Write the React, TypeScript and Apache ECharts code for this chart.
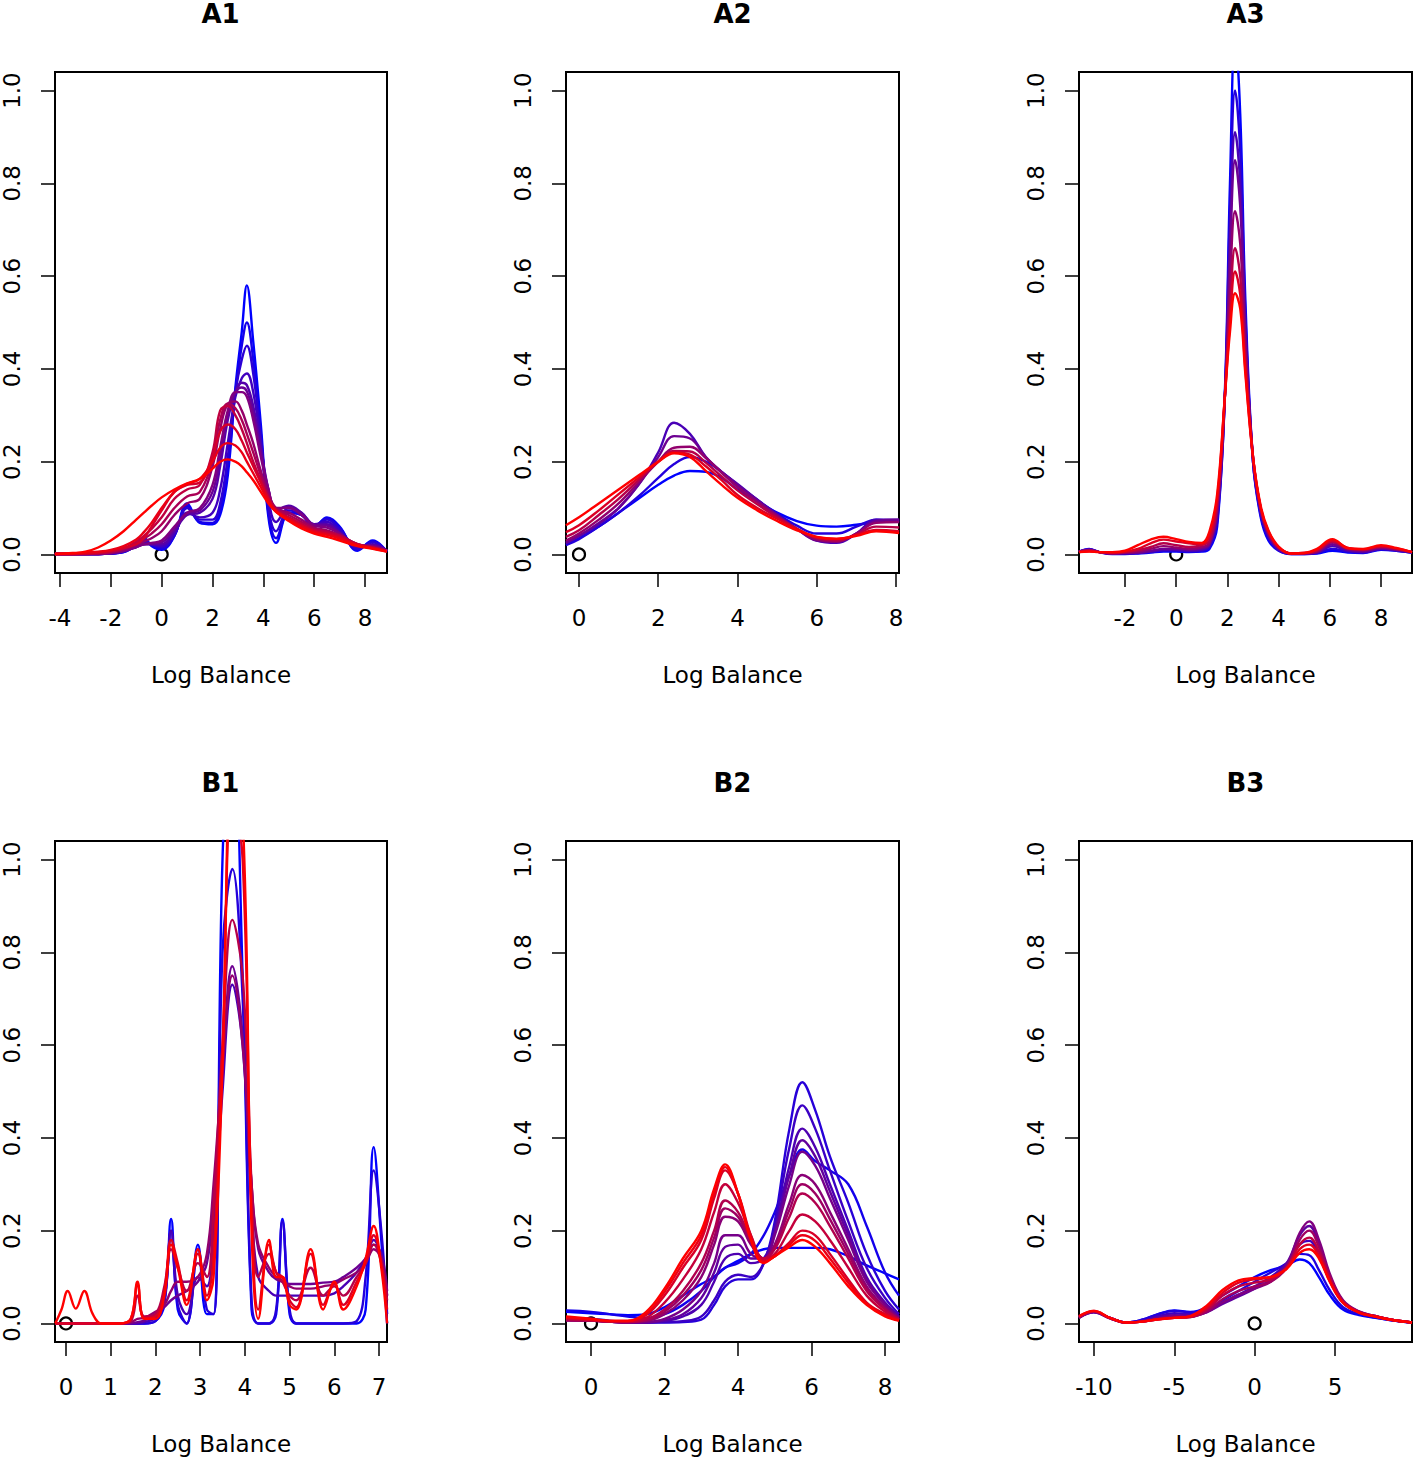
import React, { useEffect, useRef } from "react";
import * as echarts from "echarts";

// ---------- DATA ----------
const Y_TICKS = [0, 0.2, 0.4, 0.6, 0.8, 1.0];

const A1_TICKS = [-4, -2, 0, 2, 4, 6, 8];
const A2_TICKS = [0, 2, 4, 6, 8];
const A3_TICKS = [-2, 0, 2, 4, 6, 8];
const B1_TICKS = [0, 1, 2, 3, 4, 5, 6, 7];
const B2_TICKS = [0, 2, 4, 6, 8];
const B3_TICKS = [-10, -5, 0, 5];

const A1_X = [-4.2, -3.5, -3, -2.5, -2, -1.5, -1, -0.7, -0.4, 0, 0.5, 1, 1.5, 2, 2.3, 2.6, 2.9, 3.15, 3.35, 3.6, 3.9, 4.2, 4.5, 5, 5.5, 6, 6.5, 7, 7.7, 8.3, 8.86];
const A1_CURVES = [
  [0.001, 0.001, 0.001, 0.001, 0.002, 0.005, 0.02, 0.036, 0.018, 0.01, 0.04, 0.11, 0.068, 0.065, 0.085, 0.17, 0.36, 0.48, 0.58, 0.46, 0.28, 0.08, 0.025, 0.09, 0.085, 0.06, 0.08, 0.06, 0.008, 0.03, 0.006],
  [0.001, 0.001, 0.001, 0.001, 0.002, 0.005, 0.02, 0.034, 0.02, 0.012, 0.04, 0.105, 0.07, 0.068, 0.095, 0.19, 0.35, 0.45, 0.5, 0.42, 0.26, 0.09, 0.035, 0.09, 0.085, 0.06, 0.078, 0.058, 0.01, 0.028, 0.006],
  [0.001, 0.001, 0.001, 0.001, 0.002, 0.006, 0.02, 0.03, 0.022, 0.015, 0.042, 0.1, 0.075, 0.075, 0.11, 0.21, 0.35, 0.42, 0.45, 0.39, 0.25, 0.1, 0.05, 0.095, 0.085, 0.062, 0.075, 0.055, 0.012, 0.026, 0.007],
  [0.001, 0.001, 0.001, 0.001, 0.002, 0.006, 0.018, 0.026, 0.022, 0.018, 0.045, 0.09, 0.08, 0.09, 0.14, 0.24, 0.34, 0.38, 0.39, 0.35, 0.24, 0.12, 0.07, 0.1, 0.09, 0.065, 0.07, 0.05, 0.015, 0.022, 0.008],
  [0.001, 0.001, 0.001, 0.001, 0.003, 0.007, 0.016, 0.022, 0.022, 0.022, 0.05, 0.085, 0.09, 0.12, 0.19, 0.29, 0.35, 0.37, 0.365, 0.32, 0.23, 0.14, 0.095, 0.105, 0.09, 0.065, 0.065, 0.047, 0.018, 0.02, 0.008],
  [0.001, 0.001, 0.001, 0.001, 0.003, 0.007, 0.016, 0.022, 0.023, 0.026, 0.055, 0.088, 0.095, 0.135, 0.21, 0.3, 0.35, 0.36, 0.352, 0.305, 0.22, 0.14, 0.098, 0.102, 0.088, 0.064, 0.062, 0.046, 0.019, 0.019, 0.008],
  [0.001, 0.001, 0.001, 0.001, 0.003, 0.008, 0.016, 0.022, 0.025, 0.03, 0.06, 0.09, 0.1, 0.15, 0.23, 0.31, 0.35, 0.35, 0.34, 0.29, 0.21, 0.14, 0.1, 0.1, 0.085, 0.062, 0.058, 0.045, 0.02, 0.018, 0.008],
  [0.001, 0.001, 0.001, 0.002, 0.004, 0.01, 0.02, 0.028, 0.035, 0.05, 0.085, 0.11, 0.12, 0.19, 0.27, 0.325, 0.33, 0.31, 0.28, 0.24, 0.18, 0.13, 0.1, 0.09, 0.075, 0.058, 0.052, 0.042, 0.022, 0.016, 0.008],
  [0.001, 0.001, 0.001, 0.002, 0.005, 0.012, 0.024, 0.034, 0.045, 0.065, 0.1, 0.125, 0.135, 0.205, 0.29, 0.325, 0.315, 0.29, 0.26, 0.22, 0.17, 0.125, 0.098, 0.085, 0.07, 0.056, 0.05, 0.041, 0.022, 0.015, 0.008],
  [0.001, 0.001, 0.002, 0.003, 0.006, 0.013, 0.028, 0.04, 0.055, 0.08, 0.12, 0.14, 0.15, 0.22, 0.31, 0.32, 0.3, 0.27, 0.24, 0.2, 0.16, 0.12, 0.095, 0.08, 0.066, 0.053, 0.048, 0.04, 0.022, 0.015, 0.007],
  [0.001, 0.001, 0.002, 0.004, 0.008, 0.014, 0.022, 0.035, 0.06, 0.095, 0.135, 0.15, 0.155, 0.21, 0.265, 0.28, 0.27, 0.245, 0.22, 0.19, 0.155, 0.12, 0.095, 0.078, 0.063, 0.05, 0.045, 0.037, 0.021, 0.014, 0.007],
  [0.001, 0.002, 0.004, 0.006, 0.01, 0.018, 0.032, 0.048, 0.068, 0.1, 0.135, 0.152, 0.163, 0.2, 0.23, 0.24, 0.235, 0.22, 0.2, 0.175, 0.145, 0.115, 0.092, 0.075, 0.06, 0.048, 0.042, 0.034, 0.02, 0.013, 0.006],
  [0.001, 0.003, 0.006, 0.015, 0.03, 0.05, 0.075, 0.09, 0.105, 0.123, 0.14, 0.153, 0.163, 0.185, 0.2, 0.205, 0.2, 0.19, 0.177, 0.16, 0.135, 0.11, 0.092, 0.072, 0.056, 0.045, 0.038, 0.03, 0.018, 0.012, 0.006],
];

const A2_X = [-0.33, 0, 0.5, 1, 1.5, 2, 2.4, 2.8, 3.2, 3.6, 4, 4.5, 5, 5.5, 6, 6.5, 7, 7.5, 8.08];
const A2_CURVES = [
  [0.021, 0.035, 0.06, 0.09, 0.12, 0.15, 0.17, 0.18, 0.178, 0.165, 0.14, 0.115, 0.09, 0.072, 0.062, 0.06, 0.064, 0.07, 0.072],
  [0.02, 0.033, 0.06, 0.09, 0.125, 0.165, 0.195, 0.21, 0.2, 0.178, 0.15, 0.118, 0.088, 0.062, 0.045, 0.045, 0.06, 0.075, 0.07],
  [0.025, 0.04, 0.065, 0.1, 0.15, 0.22, 0.284, 0.26, 0.21, 0.178, 0.152, 0.118, 0.085, 0.055, 0.03, 0.025, 0.045, 0.075, 0.075],
  [0.025, 0.04, 0.068, 0.1, 0.15, 0.21, 0.255, 0.25, 0.21, 0.178, 0.15, 0.117, 0.085, 0.055, 0.03, 0.027, 0.045, 0.072, 0.075],
  [0.03, 0.045, 0.075, 0.11, 0.155, 0.2, 0.23, 0.232, 0.208, 0.176, 0.145, 0.113, 0.083, 0.055, 0.032, 0.028, 0.045, 0.068, 0.07],
  [0.038, 0.052, 0.085, 0.12, 0.16, 0.2, 0.223, 0.222, 0.198, 0.168, 0.138, 0.108, 0.08, 0.055, 0.035, 0.03, 0.043, 0.06, 0.058],
  [0.048, 0.063, 0.095, 0.13, 0.165, 0.2, 0.22, 0.215, 0.19, 0.16, 0.128, 0.1, 0.077, 0.055, 0.037, 0.033, 0.042, 0.053, 0.05],
  [0.063, 0.08, 0.11, 0.14, 0.17, 0.2, 0.218, 0.21, 0.18, 0.15, 0.122, 0.095, 0.072, 0.052, 0.038, 0.034, 0.04, 0.05, 0.046],
];

const A3_X = [-3.8, -3.4, -3, -2.5, -2, -1.5, -1, -0.5, 0, 0.5, 1, 1.3, 1.6, 1.9, 2.1, 2.3, 2.5, 2.7, 3, 3.3, 3.6, 4, 4.5, 5, 5.5, 6.1, 6.7, 7.3, 8, 8.6, 9.21];
const A3_CURVES = [
  [0.006, 0.012, 0.005, 0.001, 0.001, 0.002, 0.004, 0.006, 0.006, 0.005, 0.006, 0.012, 0.06, 0.35, 0.8, 1.12, 0.95, 0.55, 0.2, 0.08, 0.03, 0.008, 0.001, 0.001, 0.002, 0.008, 0.004, 0.003, 0.01, 0.008, 0.004],
  [0.006, 0.011, 0.005, 0.002, 0.002, 0.003, 0.005, 0.008, 0.008, 0.006, 0.008, 0.015, 0.07, 0.34, 0.74, 1.0, 0.87, 0.52, 0.2, 0.085, 0.035, 0.009, 0.001, 0.001, 0.003, 0.012, 0.006, 0.004, 0.011, 0.008, 0.004],
  [0.006, 0.01, 0.005, 0.002, 0.002, 0.003, 0.006, 0.01, 0.01, 0.008, 0.01, 0.02, 0.08, 0.34, 0.68, 0.91, 0.8, 0.5, 0.2, 0.09, 0.04, 0.01, 0.002, 0.002, 0.004, 0.018, 0.008, 0.005, 0.012, 0.009, 0.004],
  [0.006, 0.01, 0.005, 0.002, 0.003, 0.004, 0.008, 0.012, 0.012, 0.01, 0.013, 0.022, 0.09, 0.34, 0.64, 0.85, 0.75, 0.48, 0.21, 0.095, 0.042, 0.012, 0.002, 0.002, 0.005, 0.022, 0.01, 0.007, 0.013, 0.01, 0.005],
  [0.006, 0.009, 0.005, 0.002, 0.004, 0.006, 0.012, 0.018, 0.015, 0.012, 0.016, 0.025, 0.1, 0.34, 0.58, 0.74, 0.67, 0.45, 0.21, 0.1, 0.045, 0.014, 0.002, 0.002, 0.006, 0.026, 0.012, 0.009, 0.015, 0.011, 0.005],
  [0.006, 0.008, 0.005, 0.003, 0.005, 0.009, 0.016, 0.024, 0.02, 0.016, 0.02, 0.03, 0.11, 0.34, 0.53, 0.66, 0.6, 0.42, 0.21, 0.1, 0.048, 0.015, 0.002, 0.003, 0.008, 0.028, 0.013, 0.01, 0.017, 0.012, 0.005],
  [0.005, 0.007, 0.005, 0.004, 0.006, 0.012, 0.024, 0.032, 0.028, 0.024, 0.022, 0.04, 0.12, 0.34, 0.5, 0.61, 0.56, 0.4, 0.21, 0.1, 0.05, 0.016, 0.002, 0.003, 0.01, 0.03, 0.014, 0.011, 0.018, 0.013, 0.005],
  [0.005, 0.006, 0.005, 0.005, 0.008, 0.02, 0.032, 0.038, 0.033, 0.027, 0.025, 0.05, 0.13, 0.34, 0.48, 0.563, 0.53, 0.39, 0.21, 0.105, 0.052, 0.017, 0.002, 0.003, 0.012, 0.033, 0.014, 0.012, 0.02, 0.014, 0.005],
];

const B1_X = [-0.24, -0.1, 0.04, 0.22, 0.41, 0.6, 0.8, 1.2, 1.45, 1.6, 1.75, 2.0, 2.2, 2.35, 2.5, 2.7, 2.95, 3.15, 3.3, 3.5, 3.72, 3.95, 4.15, 4.3, 4.54, 4.7, 4.84, 5.0, 5.15, 5.47, 5.75, 6.0, 6.2, 6.5, 6.7, 6.88, 7.05, 7.18];
const B1_CURVES = [
  [0, 0, 0, 0, 0, 0, 0, 0, 0, 0, 0, 0.005, 0.04, 0.225, 0.03, 0, 0.17, 0.02, 0.02, 1.0, 1.35, 0.75, 0.03, 0, 0, 0.02, 0.225, 0.02, 0, 0, 0, 0, 0, 0, 0.03, 0.38, 0.18, 0],
  [0, 0, 0, 0, 0, 0, 0, 0, 0, 0, 0, 0.005, 0.05, 0.2, 0.04, 0, 0.16, 0.03, 0.02, 0.8, 0.98, 0.7, 0.05, 0, 0, 0.03, 0.22, 0.03, 0, 0, 0, 0, 0, 0.005, 0.1, 0.33, 0.2, 0.02],
  [0, 0, 0, 0, 0, 0, 0, 0, 0, 0, 0.003, 0.012, 0.05, 0.2, 0.06, 0.02, 0.1, 0.08, 0.2, 0.5, 0.73, 0.6, 0.25, 0.1, 0.07, 0.06, 0.06, 0.06, 0.06, 0.06, 0.06, 0.065, 0.08, 0.11, 0.14, 0.18, 0.14, 0.06],
  [0, 0, 0, 0, 0, 0, 0, 0, 0, 0.003, 0.006, 0.02, 0.035, 0.05, 0.06, 0.07, 0.09, 0.13, 0.25, 0.55, 0.77, 0.62, 0.3, 0.16, 0.11, 0.095, 0.09, 0.085, 0.085, 0.085, 0.088, 0.09, 0.1, 0.12, 0.14, 0.17, 0.15, 0.07],
  [0, 0, 0, 0, 0, 0, 0, 0, 0.003, 0.01, 0.012, 0.025, 0.04, 0.07, 0.09, 0.09, 0.1, 0.15, 0.3, 0.55, 0.75, 0.6, 0.3, 0.17, 0.12, 0.1, 0.09, 0.08, 0.075, 0.075, 0.08, 0.085, 0.095, 0.11, 0.13, 0.16, 0.14, 0.06],
  [0, 0, 0, 0, 0, 0, 0, 0, 0.005, 0.06, 0.015, 0.02, 0.08, 0.16, 0.12, 0.07, 0.13, 0.1, 0.25, 0.6, 0.87, 0.75, 0.3, 0.1, 0.15, 0.11, 0.09, 0.06, 0.05, 0.12, 0.06, 0.08, 0.06, 0.1, 0.13, 0.17, 0.13, 0.05],
  [0, 0, 0, 0, 0, 0, 0, 0, 0.01, 0.085, 0.012, 0.015, 0.07, 0.18, 0.13, 0.05, 0.15, 0.06, 0.15, 0.6, 1.15, 1.0, 0.25, 0.03, 0.17, 0.11, 0.1, 0.05, 0.035, 0.15, 0.04, 0.085, 0.04, 0.09, 0.13, 0.19, 0.13, 0.03],
  [0, 0.03, 0.07, 0.032, 0.07, 0.02, 0, 0, 0.01, 0.09, 0.01, 0.01, 0.06, 0.17, 0.12, 0.04, 0.16, 0.05, 0.1, 0.55, 1.2, 1.1, 0.2, 0.01, 0.18, 0.1, 0.1, 0.04, 0.03, 0.16, 0.03, 0.09, 0.03, 0.08, 0.14, 0.21, 0.12, 0],
];

const B2_X = [-0.68, 0, 0.5, 1.0, 1.5, 2.0, 2.5, 3.0, 3.35, 3.65, 4.0, 4.35, 4.7, 5.0, 5.4, 5.75, 6.1, 6.5, 7.0, 7.5, 8.0, 8.38];
const B2_CURVES = [
  [0.025, 0.022, 0.02, 0.018, 0.02, 0.035, 0.06, 0.085, 0.1, 0.12, 0.135, 0.15, 0.16, 0.163, 0.163, 0.163, 0.163, 0.16, 0.145, 0.125, 0.108, 0.095],
  [0.028, 0.025, 0.02, 0.015, 0.012, 0.02, 0.04, 0.07, 0.1, 0.12, 0.13, 0.15, 0.19, 0.24, 0.32, 0.375, 0.35, 0.33, 0.3, 0.21, 0.11, 0.06],
  [0.012, 0.01, 0.006, 0.003, 0.002, 0.002, 0.003, 0.008, 0.04, 0.08, 0.095, 0.095, 0.13, 0.22, 0.42, 0.52, 0.46, 0.36, 0.26, 0.15, 0.07, 0.03],
  [0.01, 0.008, 0.005, 0.003, 0.002, 0.003, 0.005, 0.015, 0.05, 0.09, 0.105, 0.1, 0.13, 0.21, 0.38, 0.47, 0.42, 0.33, 0.22, 0.12, 0.055, 0.02],
  [0.008, 0.007, 0.004, 0.002, 0.002, 0.005, 0.015, 0.04, 0.09, 0.14, 0.15, 0.13, 0.14, 0.2, 0.34, 0.42, 0.38, 0.3, 0.2, 0.1, 0.045, 0.015],
  [0.008, 0.006, 0.004, 0.002, 0.002, 0.007, 0.02, 0.055, 0.11, 0.165, 0.17, 0.14, 0.14, 0.195, 0.32, 0.395, 0.36, 0.285, 0.19, 0.095, 0.042, 0.013],
  [0.007, 0.006, 0.004, 0.002, 0.003, 0.01, 0.03, 0.07, 0.13, 0.19, 0.19, 0.15, 0.14, 0.19, 0.3, 0.37, 0.34, 0.27, 0.18, 0.09, 0.04, 0.012],
  [0.007, 0.006, 0.004, 0.003, 0.005, 0.02, 0.05, 0.1, 0.17, 0.23, 0.22, 0.17, 0.14, 0.17, 0.26, 0.32, 0.3, 0.24, 0.16, 0.08, 0.035, 0.01],
  [0.007, 0.006, 0.004, 0.003, 0.006, 0.025, 0.06, 0.115, 0.185, 0.248, 0.23, 0.175, 0.14, 0.165, 0.245, 0.3, 0.28, 0.225, 0.15, 0.075, 0.032, 0.009],
  [0.008, 0.006, 0.004, 0.003, 0.008, 0.03, 0.07, 0.13, 0.2, 0.265, 0.24, 0.18, 0.14, 0.16, 0.23, 0.28, 0.26, 0.21, 0.14, 0.07, 0.03, 0.009],
  [0.01, 0.007, 0.004, 0.004, 0.012, 0.045, 0.095, 0.16, 0.24, 0.3, 0.26, 0.19, 0.14, 0.15, 0.2, 0.235, 0.22, 0.18, 0.12, 0.06, 0.025, 0.008],
  [0.012, 0.008, 0.005, 0.005, 0.018, 0.06, 0.12, 0.18, 0.27, 0.33, 0.28, 0.19, 0.135, 0.145, 0.175, 0.2, 0.19, 0.15, 0.095, 0.045, 0.02, 0.007],
  [0.013, 0.009, 0.005, 0.005, 0.02, 0.068, 0.13, 0.19, 0.28, 0.337, 0.28, 0.185, 0.132, 0.145, 0.17, 0.19, 0.178, 0.14, 0.088, 0.042, 0.018, 0.006],
  [0.015, 0.01, 0.006, 0.006, 0.025, 0.075, 0.14, 0.2, 0.29, 0.343, 0.28, 0.18, 0.13, 0.145, 0.165, 0.18, 0.165, 0.13, 0.08, 0.04, 0.015, 0.006],
];

const B3_X = [-10.93, -10, -9, -8, -7, -6, -5, -4, -3, -2, -1, 0, 1, 2, 2.8, 3.4, 4, 4.7, 5.5, 6.5, 7.5, 8.5, 9.79];
const B3_CURVES = [
  [0.015, 0.025, 0.012, 0.002, 0.008, 0.02, 0.028, 0.025, 0.035, 0.06, 0.08, 0.1, 0.115, 0.125, 0.138, 0.13, 0.1, 0.06, 0.03, 0.018, 0.012, 0.007, 0.002],
  [0.014, 0.025, 0.012, 0.002, 0.008, 0.02, 0.027, 0.024, 0.03, 0.05, 0.07, 0.09, 0.11, 0.13, 0.15, 0.147, 0.115, 0.07, 0.035, 0.02, 0.013, 0.007, 0.002],
  [0.013, 0.024, 0.012, 0.002, 0.006, 0.016, 0.022, 0.02, 0.026, 0.045, 0.062, 0.08, 0.1, 0.13, 0.17, 0.178, 0.145, 0.09, 0.045, 0.024, 0.015, 0.008, 0.002],
  [0.012, 0.024, 0.011, 0.002, 0.005, 0.013, 0.018, 0.017, 0.024, 0.042, 0.058, 0.075, 0.095, 0.13, 0.19, 0.21, 0.17, 0.1, 0.048, 0.025, 0.016, 0.008, 0.002],
  [0.012, 0.025, 0.011, 0.002, 0.004, 0.01, 0.015, 0.015, 0.024, 0.045, 0.062, 0.075, 0.09, 0.125, 0.195, 0.22, 0.18, 0.105, 0.05, 0.026, 0.016, 0.008, 0.002],
  [0.013, 0.025, 0.011, 0.002, 0.004, 0.009, 0.013, 0.014, 0.026, 0.052, 0.07, 0.08, 0.09, 0.12, 0.18, 0.2, 0.165, 0.1, 0.048, 0.025, 0.016, 0.008, 0.002],
  [0.014, 0.026, 0.012, 0.002, 0.004, 0.009, 0.012, 0.014, 0.03, 0.06, 0.08, 0.088, 0.095, 0.12, 0.17, 0.185, 0.155, 0.095, 0.046, 0.024, 0.015, 0.008, 0.002],
  [0.015, 0.027, 0.012, 0.002, 0.004, 0.009, 0.012, 0.015, 0.034, 0.066, 0.088, 0.095, 0.1, 0.12, 0.16, 0.17, 0.145, 0.09, 0.045, 0.024, 0.015, 0.008, 0.002],
  [0.016, 0.027, 0.012, 0.002, 0.004, 0.009, 0.012, 0.016, 0.038, 0.072, 0.093, 0.098, 0.1, 0.118, 0.152, 0.16, 0.14, 0.088, 0.044, 0.023, 0.015, 0.008, 0.002],
];

const TITLES = ["A1", "A2", "A3", "B1", "B2", "B3"];
const X_LABEL = "Log Balance";

// ---------- LAYOUT ----------
const W = 1415;
const H = 1459;
const GRID_W = 333;
const GRID_H = 501;
const PANELS = [
  { x: A1_X, curves: A1_CURVES, ticks: A1_TICKS, min: -4.196, max: 8.863, left: 54, top: 72 },
  { x: A2_X, curves: A2_CURVES, ticks: A2_TICKS, min: -0.328, max: 8.076, left: 566, top: 72 },
  { x: A3_X, curves: A3_CURVES, ticks: A3_TICKS, min: -3.797, max: 9.21, left: 1079, top: 72 },
  { x: B1_X, curves: B1_CURVES, ticks: B1_TICKS, min: -0.245, max: 7.178, left: 54, top: 841 },
  { x: B2_X, curves: B2_CURVES, ticks: B2_TICKS, min: -0.68, max: 8.38, left: 566, top: 841 },
  { x: B3_X, curves: B3_CURVES, ticks: B3_TICKS, min: -10.93, max: 9.79, left: 1079, top: 841 },
];

const FONT = "DejaVu Sans";

function rampColor(i: number, n: number): string {
  const t = n > 1 ? i / (n - 1) : 0;
  const r = Math.round(255 * t);
  const b = Math.round(255 * (1 - t));
  return `rgb(${r},0,${b})`;
}

function buildOption() {
  const grid: any[] = [];
  const xAxis: any[] = [];
  const yAxis: any[] = [];
  const series: any[] = [];
  const title: any[] = [];

  PANELS.forEach((p, k) => {
    grid.push({
      left: p.left,
      top: p.top,
      width: GRID_W,
      height: GRID_H,
      show: true,
      borderColor: "#000",
      borderWidth: 2,
      backgroundColor: "transparent",
      containLabel: false,
    });
    title.push({
      text: TITLES[k],
      left: p.left + GRID_W / 2,
      top: p.top - 71,
      padding: 0,
      textAlign: "center",
      textStyle: { fontFamily: FONT, fontSize: 26, fontWeight: "bold", color: "#000" },
    });
    xAxis.push({
      type: "value",
      gridIndex: k,
      min: p.min,
      max: p.max,
      position: "bottom",
      name: X_LABEL,
      nameLocation: "middle",
      nameGap: 90,
      nameTextStyle: { fontFamily: FONT, fontSize: 23, color: "#000" },
      axisLine: { show: false, onZero: false },
      splitLine: { show: false },
      axisTick: {
        show: true,
        length: 14,
        customValues: p.ticks,
        lineStyle: { color: "#000", width: 1.5 },
      },
      axisLabel: {
        show: true,
        customValues: p.ticks,
        margin: 33,
        fontFamily: FONT,
        fontSize: 23,
        color: "#000",
        formatter: (v: number) => String(v),
      },
    });
    yAxis.push({
      type: "value",
      gridIndex: k,
      min: -0.04,
      max: 1.04,
      position: "left",
      axisLine: { show: false, onZero: false },
      splitLine: { show: false },
      axisTick: {
        show: true,
        length: 14,
        customValues: Y_TICKS,
        lineStyle: { color: "#000", width: 1.5 },
      },
      axisLabel: {
        show: true,
        customValues: Y_TICKS,
        rotate: 90,
        margin: 32,
        fontFamily: FONT,
        fontSize: 23,
        color: "#000",
        formatter: (v: number) => v.toFixed(1),
      },
    });
    series.push({
      type: "scatter",
      xAxisIndex: k,
      yAxisIndex: k,
      data: [[0, 0]],
      symbol: "circle",
      symbolSize: 12,
      z: 1,
      silent: true,
      itemStyle: { color: "rgba(0,0,0,0)", borderColor: "#000", borderWidth: 2.2, opacity: 1 },
    });
    const n = p.curves.length;
    p.curves.forEach((c, i) => {
      series.push({
        type: "line",
        xAxisIndex: k,
        yAxisIndex: k,
        data: p.x.map((xv, j) => [xv, c[j]]),
        smooth: 0.4,
        symbol: "none",
        silent: true,
        z: 2,
        lineStyle: { color: rampColor(i, n), width: 2.4 },
      });
    });
  });

  return {
    animation: false,
    backgroundColor: "#fff",
    title,
    grid,
    xAxis,
    yAxis,
    series,
  };
}

export default function App() {
  const ref = useRef<HTMLDivElement>(null);
  useEffect(() => {
    if (!ref.current) return;
    const chart = echarts.init(ref.current, undefined, { renderer: "svg" });
    chart.setOption(buildOption() as any);
    return () => chart.dispose();
  }, []);
  return (
    <div
      ref={ref}
      style={{ position: "absolute", left: 0, top: 0, width: W, height: H, background: "#fff" }}
    />
  );
}
